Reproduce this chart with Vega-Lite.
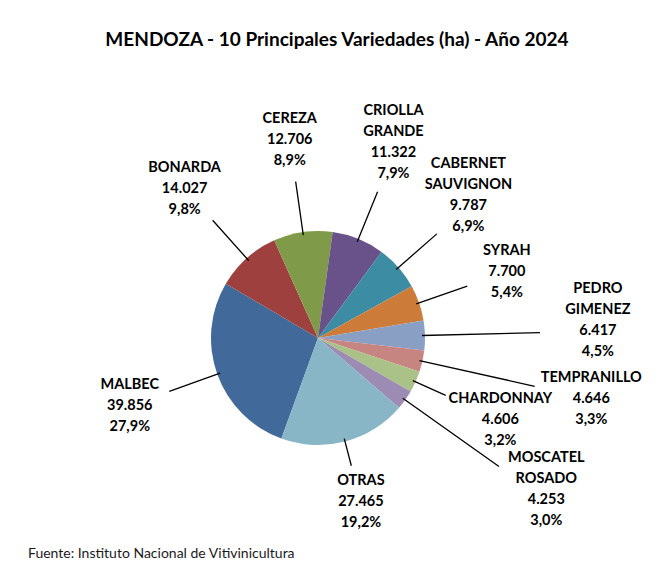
{
  "$schema": "https://vega.github.io/schema/vega-lite/v6.json",
  "padding": {"left": 0, "top": 30, "right": 0, "bottom": 0},
  "background": "white",
  "config": {
    "view": {"stroke": null},
    "font": "Lato",
    "locale": {"number": {"decimal": ",", "thousands": ".", "grouping": [3], "currency": ["$", ""]}}
  },
  "title": {
    "text": "Fuente: Instituto Nacional de Vitivinicultura",
    "orient": "bottom",
    "anchor": "start",
    "dx": 28,
    "offset": 9,
    "font": "Lato",
    "fontSize": 14,
    "fontWeight": "normal",
    "color": "#1a1a1a"
  },
  "vconcat": [
    {
      "title": {
        "text": "MENDOZA - 10 Principales Variedades (ha) - Año 2024",
        "font": "Lato",
        "fontSize": 19,
        "fontWeight": "bold",
        "color": "#000000",
        "anchor": "middle",
        "dx": 19,
        "offset": 53
      },
      "width": 636,
      "height": 400,
      "data": {
        "values": [
          {"orden": 1, "variedad": "MALBEC", "ha": 39856, "porcentaje": 0.279},
          {"orden": 2, "variedad": "BONARDA", "ha": 14027, "porcentaje": 0.098},
          {"orden": 3, "variedad": "CEREZA", "ha": 12706, "porcentaje": 0.089},
          {"orden": 4, "variedad": "CRIOLLA GRANDE", "ha": 11322, "porcentaje": 0.079},
          {"orden": 5, "variedad": "CABERNET SAUVIGNON", "ha": 9787, "porcentaje": 0.069},
          {"orden": 6, "variedad": "SYRAH", "ha": 7700, "porcentaje": 0.054},
          {"orden": 7, "variedad": "PEDRO GIMENEZ", "ha": 6417, "porcentaje": 0.045},
          {"orden": 8, "variedad": "TEMPRANILLO", "ha": 4646, "porcentaje": 0.033},
          {"orden": 9, "variedad": "CHARDONNAY", "ha": 4606, "porcentaje": 0.032},
          {"orden": 10, "variedad": "MOSCATEL ROSADO", "ha": 4253, "porcentaje": 0.030},
          {"orden": 11, "variedad": "OTRAS", "ha": 27465, "porcentaje": 0.192}
        ]
      },
      "transform": [
        {"stack": "ha", "groupby": [], "sort": [{"field": "orden", "order": "ascending"}], "as": ["acum_ini", "acum_fin"]},
        {"fold": ["acum_ini", "acum_fin"], "as": ["borde", "acum"]},
        {"joinaggregate": [{"op": "mean", "field": "acum", "as": "medio"}], "groupby": ["variedad"]},
        {"filter": {"field": "borde", "equal": "acum_ini"}}
      ],
      "layer": [
        {
          "mark": {"type": "arc", "outerRadius": 107, "stroke": null},
          "encoding": {
            "theta": {"field": "acum_fin", "type": "quantitative", "scale": {"range": [3.4907, 9.7738], "nice": false, "zero": true}},
            "theta2": {"field": "acum_ini"},
            "color": {
              "field": "variedad",
              "type": "nominal",
              "legend": null,
              "scale": {
                "domain": ["MALBEC", "BONARDA", "CEREZA", "CRIOLLA GRANDE", "CABERNET SAUVIGNON", "SYRAH", "PEDRO GIMENEZ", "TEMPRANILLO", "CHARDONNAY", "MOSCATEL ROSADO", "OTRAS"],
                "range": ["#41699A", "#9E413E", "#7F9A48", "#69518A", "#3C8DA3", "#CD7B38", "#899FC3", "#C78582", "#AAC287", "#9C8CB4", "#88B6C7"]
              }
            }
          }
        },
        {
          "transform": [{"filter": {"field": "variedad", "oneOf": ["MALBEC", "BONARDA", "CEREZA", "CRIOLLA GRANDE", "CABERNET SAUVIGNON", "SYRAH"]}}],
          "mark": {"type": "arc", "innerRadius": 104, "outerRadius": 158, "padAngle": 3.3, "stroke": "#000000", "strokeWidth": 1.3, "fill": "#000000"},
          "encoding": {
            "theta": {"field": "acum_fin", "type": "quantitative"},
            "theta2": {"field": "acum_ini"}
          }
        },
        {
          "transform": [{"filter": {"field": "variedad", "oneOf": ["CHARDONNAY"]}}],
          "mark": {"type": "arc", "innerRadius": 104, "outerRadius": 140, "padAngle": 3.3, "stroke": "#000000", "strokeWidth": 1.3, "fill": "#000000"},
          "encoding": {
            "theta": {"field": "acum_fin", "type": "quantitative"},
            "theta2": {"field": "acum_ini"}
          }
        },
        {
          "transform": [{"filter": {"field": "variedad", "oneOf": ["PEDRO GIMENEZ", "TEMPRANILLO", "MOSCATEL ROSADO"]}}],
          "mark": {"type": "arc", "innerRadius": 104, "outerRadius": 222, "padAngle": 3.3, "stroke": "#000000", "strokeWidth": 1.3, "fill": "#000000"},
          "encoding": {
            "theta": {"field": "acum_fin", "type": "quantitative"},
            "theta2": {"field": "acum_ini"}
          }
        },
        {
          "transform": [{"filter": {"field": "variedad", "oneOf": ["OTRAS"]}}],
          "mark": {"type": "arc", "innerRadius": 104, "outerRadius": 132, "padAngle": 3.3, "stroke": "#000000", "strokeWidth": 1.3, "fill": "#000000"},
          "encoding": {
            "theta": {"field": "acum_fin", "type": "quantitative"},
            "theta2": {"field": "acum_ini"}
          }
        },
        {
          "transform": [{"filter": {"field": "variedad", "oneOf": ["MALBEC", "BONARDA", "CEREZA", "SYRAH", "CHARDONNAY"]}}],
          "mark": {"type": "text", "radius": 200, "font": "Lato", "fontSize": 14.5, "fontWeight": "bold", "color": "#000000", "align": "center", "baseline": "middle", "dy": -21},
          "encoding": {
            "theta": {"field": "medio", "type": "quantitative"},
            "text": {"field": "variedad", "type": "nominal"}
          }
        },
        {
          "transform": [{"filter": {"field": "variedad", "oneOf": ["CRIOLLA GRANDE", "CABERNET SAUVIGNON"]}}],
          "mark": {"type": "text", "radius": 200, "font": "Lato", "fontSize": 14.5, "fontWeight": "bold", "color": "#000000", "align": "center", "baseline": "top", "lineBreak": " ", "lineHeight": 21, "dy": -49},
          "encoding": {
            "theta": {"field": "medio", "type": "quantitative"},
            "text": {"field": "variedad", "type": "nominal"}
          }
        },
        {
          "transform": [{"filter": {"field": "variedad", "oneOf": ["MALBEC", "BONARDA", "CEREZA", "CRIOLLA GRANDE", "CABERNET SAUVIGNON", "SYRAH", "CHARDONNAY"]}}],
          "mark": {"type": "text", "radius": 200, "font": "Lato", "fontSize": 14.5, "fontWeight": "bold", "color": "#000000", "align": "center", "baseline": "middle", "dy": 0},
          "encoding": {
            "theta": {"field": "medio", "type": "quantitative"},
            "text": {"field": "ha", "type": "quantitative", "format": ",d"}
          }
        },
        {
          "transform": [{"filter": {"field": "variedad", "oneOf": ["MALBEC", "BONARDA", "CEREZA", "CRIOLLA GRANDE", "CABERNET SAUVIGNON", "SYRAH", "CHARDONNAY"]}}],
          "mark": {"type": "text", "radius": 200, "font": "Lato", "fontSize": 14.5, "fontWeight": "bold", "color": "#000000", "align": "center", "baseline": "middle", "dy": 21},
          "encoding": {
            "theta": {"field": "medio", "type": "quantitative"},
            "text": {"field": "porcentaje", "type": "quantitative", "format": ".1%"}
          }
        },
        {
          "transform": [{"filter": {"field": "variedad", "oneOf": ["TEMPRANILLO"]}}],
          "mark": {"type": "text", "radius": 280, "font": "Lato", "fontSize": 14.5, "fontWeight": "bold", "color": "#000000", "align": "center", "baseline": "middle", "dy": -21},
          "encoding": {
            "theta": {"field": "medio", "type": "quantitative"},
            "text": {"field": "variedad", "type": "nominal"}
          }
        },
        {
          "transform": [{"filter": {"field": "variedad", "oneOf": ["PEDRO GIMENEZ", "MOSCATEL ROSADO"]}}],
          "mark": {"type": "text", "radius": 280, "font": "Lato", "fontSize": 14.5, "fontWeight": "bold", "color": "#000000", "align": "center", "baseline": "top", "lineBreak": " ", "lineHeight": 21, "dy": -49},
          "encoding": {
            "theta": {"field": "medio", "type": "quantitative"},
            "text": {"field": "variedad", "type": "nominal"}
          }
        },
        {
          "transform": [{"filter": {"field": "variedad", "oneOf": ["PEDRO GIMENEZ", "TEMPRANILLO", "MOSCATEL ROSADO"]}}],
          "mark": {"type": "text", "radius": 280, "font": "Lato", "fontSize": 14.5, "fontWeight": "bold", "color": "#000000", "align": "center", "baseline": "middle", "dy": 0},
          "encoding": {
            "theta": {"field": "medio", "type": "quantitative"},
            "text": {"field": "ha", "type": "quantitative", "format": ",d"}
          }
        },
        {
          "transform": [{"filter": {"field": "variedad", "oneOf": ["PEDRO GIMENEZ", "TEMPRANILLO", "MOSCATEL ROSADO"]}}],
          "mark": {"type": "text", "radius": 280, "font": "Lato", "fontSize": 14.5, "fontWeight": "bold", "color": "#000000", "align": "center", "baseline": "middle", "dy": 21},
          "encoding": {
            "theta": {"field": "medio", "type": "quantitative"},
            "text": {"field": "porcentaje", "type": "quantitative", "format": ".1%"}
          }
        },
        {
          "transform": [{"filter": {"field": "variedad", "oneOf": ["OTRAS"]}}],
          "mark": {"type": "text", "radius": 170, "font": "Lato", "fontSize": 14.5, "fontWeight": "bold", "color": "#000000", "align": "center", "baseline": "middle", "dy": -21},
          "encoding": {
            "theta": {"field": "medio", "type": "quantitative"},
            "text": {"field": "variedad", "type": "nominal"}
          }
        },
        {
          "transform": [{"filter": {"field": "variedad", "oneOf": ["OTRAS"]}}],
          "mark": {"type": "text", "radius": 170, "font": "Lato", "fontSize": 14.5, "fontWeight": "bold", "color": "#000000", "align": "center", "baseline": "middle", "dy": 0},
          "encoding": {
            "theta": {"field": "medio", "type": "quantitative"},
            "text": {"field": "ha", "type": "quantitative", "format": ",d"}
          }
        },
        {
          "transform": [{"filter": {"field": "variedad", "oneOf": ["OTRAS"]}}],
          "mark": {"type": "text", "radius": 170, "font": "Lato", "fontSize": 14.5, "fontWeight": "bold", "color": "#000000", "align": "center", "baseline": "middle", "dy": 21},
          "encoding": {
            "theta": {"field": "medio", "type": "quantitative"},
            "text": {"field": "porcentaje", "type": "quantitative", "format": ".1%"}
          }
        }
      ]
    }
  ]
}
